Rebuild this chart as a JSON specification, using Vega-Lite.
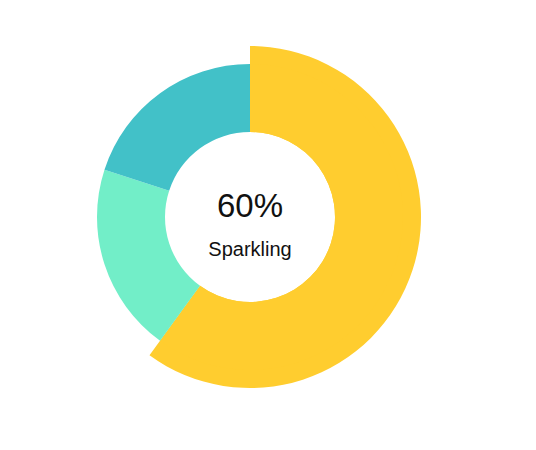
{
  "$schema": "https://vega.github.io/schema/vega-lite/v6.json",
  "width": 500,
  "height": 434,
  "padding": 0,
  "background": "white",
  "config": {"view": {"stroke": null}},
  "data": {
    "values": [
      {"category": "Sparkling", "value": 60, "rank": 1},
      {"category": "Still", "value": 20, "rank": 2},
      {"category": "Other", "value": 20, "rank": 3}
    ]
  },
  "encoding": {
    "theta": {"field": "value", "type": "quantitative", "stack": true},
    "order": {"field": "rank", "type": "quantitative"},
    "color": {
      "field": "category",
      "type": "nominal",
      "scale": {"domain": ["Sparkling", "Still", "Other"], "range": ["#FFCD2F", "#72EEC8", "#42C1C8"]},
      "legend": null
    }
  },
  "layer": [
    {
      "mark": {"type": "arc", "innerRadius": 85, "outerRadius": 171},
      "encoding": {
        "opacity": {"condition": {"test": "datum.category === 'Sparkling'", "value": 1}, "value": 0}
      }
    },
    {
      "mark": {"type": "arc", "innerRadius": 85, "outerRadius": 153}
    },
    {
      "transform": [
        {"filter": "datum.category === 'Sparkling'"},
        {"calculate": "datum.value + '%'", "as": "pct"}
      ],
      "mark": {"type": "text", "font": "Liberation Sans", "fontSize": 33, "baseline": "alphabetic", "align": "center", "color": "#111111", "dy": 0},
      "encoding": {"text": {"field": "pct", "type": "nominal"}, "theta": null, "order": null, "color": null}
    },
    {
      "transform": [{"filter": "datum.category === 'Sparkling'"}],
      "mark": {"type": "text", "font": "Liberation Sans", "fontSize": 20, "baseline": "alphabetic", "align": "center", "color": "#111111", "dy": 39},
      "encoding": {"text": {"field": "category", "type": "nominal"}, "theta": null, "order": null, "color": null}
    }
  ]
}
